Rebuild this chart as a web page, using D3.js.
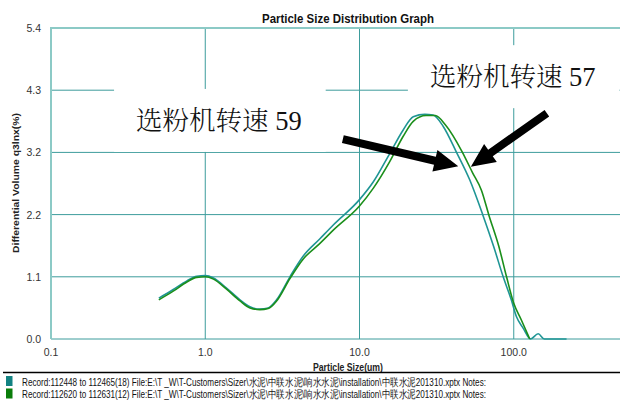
<!DOCTYPE html>
<html><head><meta charset="utf-8">
<script src="https://cdn.jsdelivr.net/npm/d3@7"></script>
<style>body{margin:0;background:#fff}svg{display:block}</style>
</head><body>
<svg id="c" width="620" height="401"></svg>
<script>
// ---- data ----
const titleText = "Particle Size Distribution Graph";
const xTitle = "Particle Size(um)";
const yTitle = "Differential Volume q3lnx(%)";
const xTicks = [0.1, 1, 10, 100, 1000];
const yTicks = [0, 1.08, 2.16, 3.24, 4.32, 5.4];

const sizesA = [0.50,0.62,0.76,0.88,1.00,1.13,1.38,1.68,1.95,2.26,2.56,2.90,3.54,4.32,5.54,6.76,10.0,12.3,15.7,19.2,22.3,26.5,30.0,34.9,42.4,51.9,63.1,74,85.4,96.4,104,115,128.5,144,158,220];
const valuesA = [0.71,0.86,1.01,1.09,1.10,1.06,0.88,0.68,0.56,0.52,0.54,0.68,1.08,1.44,1.74,1.98,2.42,2.73,3.22,3.63,3.86,3.90,3.89,3.69,3.25,2.76,2.15,1.61,1.08,0.68,0.39,0.19,0.0,0.09,0.0,0.0];

const sizesB = [0.50,0.62,0.76,0.88,1.00,1.13,1.38,1.68,1.95,2.26,2.56,2.90,3.54,4.32,5.54,6.76,10.0,12.3,15.7,19.2,22.3,27.0,31.0,36.0,46.3,54,61.8,69,80,89.8,100,112,127];
const valuesB = [0.68,0.83,0.99,1.07,1.08,1.04,0.86,0.66,0.54,0.51,0.53,0.66,1.05,1.39,1.66,1.89,2.31,2.62,3.08,3.52,3.78,3.88,3.88,3.72,3.25,2.89,2.58,2.15,1.61,1.08,0.62,0.33,0.0];

const legendTexts = [
  "Record:112448 to 112465(18)  File:E:\\T _W\\T-Customers\\Sizer\\水泥\\中联水泥\\响水水泥\\installation\\中联水泥201310.xptx  Notes:",
  "Record:112620 to 112631(12)  File:E:\\T _W\\T-Customers\\Sizer\\水泥\\中联水泥\\响水水泥\\installation\\中联水泥201310.xptx  Notes:"
];
const seriesColors = ["#1f9595", "#1b8f1b"];
const legendColors = ["#128282", "#0a7d0a"];

const labels = [
  {text: "选粉机转速 59", size: 0.356, value: 3.63},
  {text: "选粉机转速 57", size: 28.6, value: 4.39}
];
const arrows = [
  {from: [7.8, 3.47], to: [43.7, 3.00]},
  {from: [164, 3.92], to: [52.7, 2.99]}
];

// ---- drawing ----
const svg = d3.select("#c");
const x = d3.scaleLog().domain([0.1, 1000]).range([51, 668]);
const y = d3.scaleLinear().domain([0, 5.4]).range([339, 28]);
const W = 620;
const gridCol = "#3d9c9c", axisCol = "#8ccac6";

// gridlines
svg.append("g").selectAll("line").data(yTicks.slice(1, -1)).join("line")
  .attr("x1", 51).attr("x2", W).attr("y1", d => y(d)).attr("y2", d => y(d))
  .attr("stroke", gridCol).attr("stroke-width", 1);
svg.append("g").selectAll("line").data(xTicks.slice(1).filter(d => x(d) < W)).join("line")
  .attr("x1", d => x(d)).attr("x2", d => x(d)).attr("y1", y(5.4)).attr("y2", y(0))
  .attr("stroke", gridCol).attr("stroke-width", 1);
svg.append("line").attr("x1", 51).attr("x2", W).attr("y1", y(0)).attr("y2", y(0))
  .attr("stroke", gridCol).attr("stroke-width", 1);
svg.append("line").attr("x1", 51).attr("x2", W).attr("y1", y(5.4)).attr("y2", y(5.4))
  .attr("stroke", axisCol).attr("stroke-width", 2);
svg.append("line").attr("x1", 51).attr("x2", 51).attr("y1", y(5.4) - 1).attr("y2", y(0))
  .attr("stroke", axisCol).attr("stroke-width", 2);

// tick labels
const fmt = d3.format(".1f");
svg.append("g").selectAll("text").data(yTicks).join("text")
  .attr("x", 41).attr("y", d => y(d) + 4).attr("text-anchor", "end")
  .attr("font-family", "Liberation Sans, Arial, sans-serif").attr("font-size", 10.5)
  .attr("fill", "#333").text(d => fmt(d));
svg.append("g").selectAll("text").data(xTicks.filter(d => x(d) < W)).join("text")
  .attr("x", d => x(d)).attr("y", 356).attr("text-anchor", "middle")
  .attr("font-family", "Liberation Sans, Arial, sans-serif").attr("font-size", 10.5)
  .attr("fill", "#333").text(d => fmt(d));

// titles
svg.append("text").attr("x", 348).attr("y", 23).attr("text-anchor", "middle")
  .attr("font-family", "Liberation Sans, Arial, sans-serif").attr("font-weight", "bold")
  .attr("font-size", 12).attr("textLength", 172).attr("lengthAdjust", "spacingAndGlyphs")
  .attr("fill", "#111").text(titleText);
svg.append("text").attr("x", 348).attr("y", 371).attr("text-anchor", "middle")
  .attr("font-family", "Liberation Sans, Arial, sans-serif").attr("font-weight", "bold")
  .attr("font-size", 10).attr("textLength", 70).attr("lengthAdjust", "spacingAndGlyphs")
  .attr("fill", "#222").text(xTitle);
svg.append("text").attr("transform", "translate(19,183) rotate(-90)").attr("text-anchor", "middle")
  .attr("font-family", "Liberation Sans, Arial, sans-serif").attr("font-weight", "bold")
  .attr("font-size", 9.5).attr("textLength", 140).attr("lengthAdjust", "spacingAndGlyphs")
  .attr("fill", "#222").text(yTitle);

// label boxes + labels
const labG = svg.append("g");
labels.forEach(l => {
  const box = labG.append("rect").attr("fill", "#fff");
  const t = labG.append("text").attr("x", x(l.size)).attr("y", y(l.value))
    .attr("font-family", "Liberation Serif, Noto Serif CJK SC, Noto Sans CJK SC, serif")
    .attr("font-weight", 300).attr("font-size", 26.5).attr("fill", "#111").text(l.text);
  const bb = t.node().getBBox();
  box.attr("x", bb.x - 22).attr("y", bb.y - 17).attr("width", bb.width + 46).attr("height", bb.height + 33);
});

// curves
const line = d3.line().x(d => x(d[0])).y(d => y(d[1])).curve(d3.curveMonotoneX);
const serA = sizesA.map((s, i) => [s, valuesA[i]]);
const serB = sizesB.map((s, i) => [s, valuesB[i]]);
svg.append("path").attr("d", line(serA)).attr("fill", "none")
  .attr("stroke", seriesColors[0]).attr("stroke-width", 1.6);
svg.append("path").attr("d", line(serB)).attr("fill", "none")
  .attr("stroke", seriesColors[1]).attr("stroke-width", 1.6);

// arrows
arrows.forEach(a => {
  const x0 = x(a.from[0]), y0 = y(a.from[1]), x1 = x(a.to[0]), y1 = y(a.to[1]);
  const dx = x1 - x0, dy = y1 - y0, L = Math.hypot(dx, dy);
  const ux = dx / L, uy = dy / L, nx = -uy, ny = ux;
  const sw = 4, hw = 11, hl = 24;
  const bx = x1 - ux * hl, by = y1 - uy * hl;
  const pts = [
    [x0 + nx * sw, y0 + ny * sw], [bx + nx * sw, by + ny * sw], [bx + nx * hw, by + ny * hw],
    [x1, y1], [bx - nx * hw, by - ny * hw], [bx - nx * sw, by - ny * sw], [x0 - nx * sw, y0 - ny * sw]
  ];
  svg.append("path").attr("d", "M" + pts.map(p => p.join(",")).join("L") + "Z").attr("fill", "#000");
});

// legend
svg.append("line").attr("x1", 3).attr("x2", W).attr("y1", 372.5).attr("y2", 372.5)
  .attr("stroke", "#000").attr("stroke-width", 1.5);
const lg = svg.append("g");
legendTexts.forEach((t, i) => {
  lg.append("rect").attr("x", 6).attr("y", 376 + i * 12.5).attr("width", 6.5).attr("height", 10)
    .attr("fill", legendColors[i]);
  lg.append("text").attr("x", 22).attr("y", 385.5 + i * 12.5)
    .attr("font-family", "Liberation Sans Narrow, Liberation Sans, Arial, sans-serif")
    .attr("font-size", 10.5).attr("fill", "#111")
    .attr("textLength", 464).attr("lengthAdjust", "spacingAndGlyphs").text(t);
});
</script>
</body></html>
